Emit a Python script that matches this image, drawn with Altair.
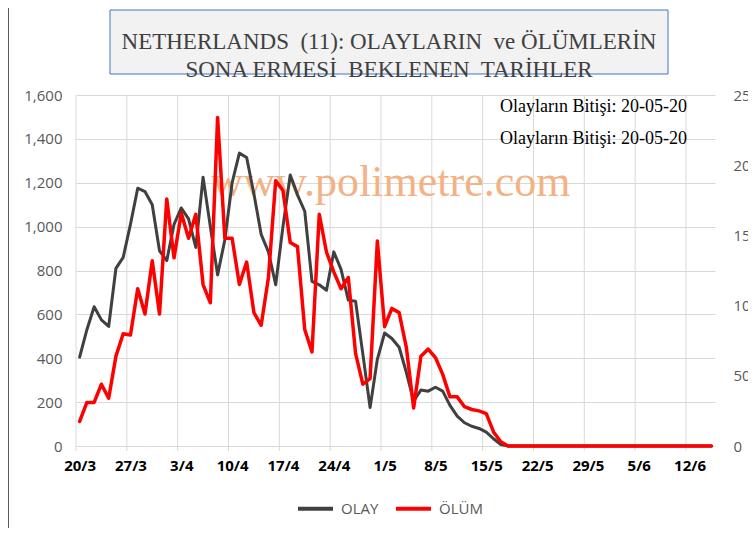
import json
import altair as alt
import pandas as pd

# ---------------- data ----------------
x_labels = ["20/3", "27/3", "3/4", "10/4", "17/4", "24/4", "1/5", "8/5",
            "15/5", "22/5", "29/5", "5/6", "12/6"]

olay = [405, 530, 635, 575, 545, 810, 860, 1010, 1175, 1160,
        1100, 890, 845, 1010, 1085, 1035, 905, 1225, 1000, 780,
        940, 1200, 1335, 1315, 1150, 965, 885, 735, 1000, 1235,
        1145, 1070, 750, 735, 710, 885, 805, 665, 660, 420,
        175, 395, 515, 490, 450, 335, 205, 255, 250, 268,
        250, 185, 136, 106, 90, 80, 63, 33, 7] + [0] * 29

olum = [17.5, 31, 31, 44, 34, 64, 80, 79, 112, 94,
        132, 94, 176, 134, 166, 148, 165, 115, 102, 234,
        148, 148, 115, 131, 95, 86, 120, 189, 182, 145,
        142, 83, 67, 165, 138, 124, 112, 120, 66, 44,
        48, 146, 85, 98, 95, 70, 27, 64, 69, 63,
        51, 35, 35, 28, 26, 25, 23, 10, 3] + [0] * 29

series_names = ["OLAY", "ÖLÜM"]
series_colors = ["#404040", "#ff0000"]

title_text = "NETHERLANDS\u00a0 (11): OLAYLARIN\u00a0 ve ÖLÜMLERİN\nSONA ERMESİ\u00a0 BEKLENEN\u00a0 TARİHLER"
note_texts = ["Olayların Bitişi: 20-05-20", "Olayların Bitişi: 20-05-20"]
watermark = "www.polimetre.com"

# ---------------- tables ----------------
n = len(olay)
days = list(range(n))
df = pd.DataFrame({
    "day": days * 2,
    "value": olay + olum,
    "series": ["OLAY"] * n + ["ÖLÜM"] * n,
})
label_pos = [i * 7 for i in range(len(x_labels))]
grid_df = pd.DataFrame({"day": [p - 0.5 for p in label_pos]})

W, H = 639, 351
label_font = "Open Sans"

x_scale = alt.Scale(domain=[-0.5, n - 0.5], nice=False, zero=False)
label_expr = json.dumps(x_labels) + "[round(datum.value / 7)]"
x_axis = alt.Axis(values=label_pos, labelExpr=label_expr, grid=False,
                  ticks=False, domain=False, labelFont=label_font,
                  labelFontSize=15, labelFontWeight="bold",
                  labelColor="#000000", labelPadding=12, title=None)
x_enc = alt.X("day:Q", scale=x_scale, axis=x_axis)

color_enc = alt.Color("series:N",
                      scale=alt.Scale(domain=series_names, range=series_colors),
                      legend=alt.Legend(orient="none", legendX=220, legendY=394,
                                        direction="horizontal", title=None,
                                        symbolType="stroke", symbolSize=1225,
                                        symbolStrokeWidth=4, labelFont=label_font,
                                        labelFontSize=15, labelColor="#595959",
                                        columnPadding=9, labelOffset=6))

# vertical gridlines at category-group boundaries (with tick marks below axis)
vgrid = alt.Chart(grid_df).mark_rule(color="#d9d9d9", strokeWidth=1).encode(
    x=x_enc, y=alt.value(0), y2=alt.value(H + 5))

wm = alt.Chart(pd.DataFrame({"t": [watermark]})).mark_text(
    font="Liberation Serif", fontSize=44, color="#f4b183", align="center",
    baseline="middle").encode(text="t:N", x=alt.value(315), y=alt.value(88))

note1 = alt.Chart(pd.DataFrame({"t": [note_texts[0]]})).mark_text(
    font="Liberation Serif", fontSize=18, color="#000000", align="left",
    baseline="middle").encode(text="t:N", x=alt.value(424), y=alt.value(12))
note2 = alt.Chart(pd.DataFrame({"t": [note_texts[1]]})).mark_text(
    font="Liberation Serif", fontSize=18, color="#000000", align="left",
    baseline="middle").encode(text="t:N", x=alt.value(424), y=alt.value(44))

line_olay = alt.Chart(df).transform_filter(alt.datum.series == "OLAY").mark_line(
    strokeWidth=3, strokeCap="round", strokeJoin="round").encode(
    x=x_enc,
    y=alt.Y("value:Q", scale=alt.Scale(domain=[0, 1600], nice=False),
            axis=alt.Axis(values=list(range(0, 1601, 200)), format=",d",
                          grid=True, gridColor="#d9d9d9", gridWidth=1,
                          ticks=False, domain=False, labelFont=label_font,
                          labelFontSize=15, labelColor="#595959",
                          labelPadding=14, title=None)),
    color=color_enc)

line_olum = alt.Chart(df).transform_filter(alt.datum.series == "ÖLÜM").mark_line(
    strokeWidth=3.5, strokeCap="round", strokeJoin="round").encode(
    x=x_enc,
    y=alt.Y("value:Q", scale=alt.Scale(domain=[0, 250], nice=False),
            axis=alt.Axis(orient="right", values=list(range(0, 251, 50)),
                          grid=False, ticks=False, domain=False,
                          labelFont=label_font, labelFontSize=15,
                          labelColor="#595959", labelPadding=18, title=None)),
    color=color_enc)

title_box = alt.Chart(pd.DataFrame({"t": [title_text]})).mark_rect(
    fill="#f2f2f2", stroke="#4472c4", strokeWidth=1).encode(
    x=alt.value(34), x2=alt.value(592), y=alt.value(-85), y2=alt.value(-21))

title_txt = alt.Chart(pd.DataFrame({"t": [title_text]})).mark_text(
    font="Liberation Serif", fontSize=23, color="#404040", align="center",
    baseline="middle", lineBreak="\n", lineHeight=28).encode(
    text="t:N", x=alt.value(313), y=alt.value(-53))

border = alt.Chart(pd.DataFrame({"t": [0]})).mark_rule(
    color="#595959", strokeWidth=1).encode(
    x=alt.value(-67.5), y=alt.value(-87), y2=alt.value(H + 82))

chart = alt.layer(
    vgrid, border, wm, note1, note2, line_olay, line_olum, title_box, title_txt
).resolve_scale(y="independent").properties(
    width=W, height=H,
    autosize=alt.AutoSizeParams(type="none"),
    padding={"left": 68, "top": 87, "right": 33, "bottom": 82},
    background="#ffffff",
).configure_view(stroke=None, clip=False)

chart.save("out.html", embed_options={"renderer": "svg", "actions": False})
